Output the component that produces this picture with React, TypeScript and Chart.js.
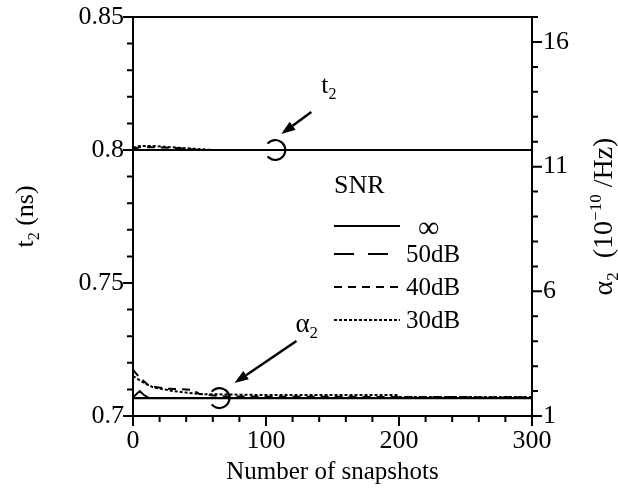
import { useEffect, useRef } from 'react';
import { Chart, registerables } from 'chart.js';

Chart.register(...registerables);

const FONT = '"Liberation Serif", "Times New Roman", serif';

// Fitted delay t2 (ns) against the number of snapshots, one pair per SNR
const t2InfX = [0, 300];
const t2InfY = [0.8, 0.8];
const t2Db50X = [0, 300];
const t2Db50Y = [0.8, 0.8];
const t2Db40X = [0, 5, 20, 40, 50, 300];
const t2Db40Y = [0.8005, 0.801, 0.801, 0.8005, 0.8, 0.8];
const t2Db30X = [0, 5, 15, 30, 45, 60, 300];
const t2Db30Y = [0.8008, 0.8015, 0.8015, 0.801, 0.8005, 0.8, 0.8];

// Fitted attenuation alpha2 (1e-10/Hz) against the number of snapshots
const a2InfX = [0, 300];
const a2InfY = [1.72, 1.72];
const a2Db50X = [0, 5, 8, 12, 300];
const a2Db50Y = [1.75, 2.0, 1.85, 1.72, 1.72];
const a2Db40X = [0, 4, 12, 25, 45, 50, 70, 300];
const a2Db40Y = [2.85, 2.6, 2.2, 2.1, 2.05, 1.88, 1.78, 1.75];
const a2Db30X = [0, 6, 15, 30, 50, 100, 198, 200, 300];
const a2Db30Y = [2.6, 2.4, 2.15, 2.0, 1.88, 1.84, 1.84, 1.76, 1.76];

// Axis ticks
const xTicks = [0, 100, 200, 300];
const t2Ticks = [0.7, 0.75, 0.8, 0.85];
const a2Ticks = [1, 6, 11, 16];

// Legend
const snrLabels = ['∞', '50dB', '40dB', '30dB'];
const snrDashes: number[][] = [[], [20, 14], [8, 6], [3, 2]];

// Annotation anchors in data units: [snapshots, value]
const t2Marker = [107, 0.8];
const a2Marker = [65, 1.72];

type Part = [string, 'n' | 'sub' | 'sup'];

const pts = (xs: number[], ys: number[]) => xs.map((x, i) => ({ x, y: ys[i] }));

function drawRich(ctx: CanvasRenderingContext2D, parts: Part[], x: number, y: number, size: number, center = false) {
  const small = Math.round(size * 0.62);
  const widths = parts.map(([t, k]) => {
    ctx.font = `${k === 'n' ? size : small}px ${FONT}`;
    return ctx.measureText(t).width;
  });
  const total = widths.reduce((a, b) => a + b, 0);
  let cx = center ? x - total / 2 : x;
  ctx.textBaseline = 'alphabetic';
  ctx.textAlign = 'left';
  parts.forEach(([t, k], i) => {
    ctx.font = `${k === 'n' ? size : small}px ${FONT}`;
    const dy = k === 'sub' ? size * 0.22 : k === 'sup' ? -size * 0.38 : 0;
    ctx.fillText(t, cx, y + dy);
    cx += widths[i];
  });
}

function arrow(ctx: CanvasRenderingContext2D, x0: number, y0: number, x1: number, y1: number) {
  const ang = Math.atan2(y1 - y0, x1 - x0);
  const head = 14;
  const hw = 5;
  const bx = x1 - head * Math.cos(ang);
  const by = y1 - head * Math.sin(ang);
  ctx.lineWidth = 2.5;
  ctx.beginPath();
  ctx.moveTo(x0, y0);
  ctx.lineTo(bx, by);
  ctx.stroke();
  ctx.beginPath();
  ctx.moveTo(x1, y1);
  ctx.lineTo(bx + hw * Math.sin(ang), by - hw * Math.cos(ang));
  ctx.lineTo(bx - hw * Math.sin(ang), by + hw * Math.cos(ang));
  ctx.closePath();
  ctx.fill();
}

function hook(ctx: CanvasRenderingContext2D, cx: number, cy: number) {
  ctx.lineWidth = 2.2;
  ctx.beginPath();
  ctx.arc(cx, cy, 10, -0.78 * Math.PI, 0.78 * Math.PI);
  ctx.stroke();
}

const framePlugin = {
  id: 'frameAndNotes',
  afterDraw(chart: any) {
    const { ctx, chartArea } = chart;
    const { left, top, right, bottom } = chartArea;
    const { x, y, y1 } = chart.scales;
    ctx.save();
    ctx.strokeStyle = '#000';
    ctx.fillStyle = '#000';
    ctx.lineWidth = 2;
    ctx.strokeRect(left, top, right - left, bottom - top);

    // tick marks, major and minor
    ctx.beginPath();
    for (let v = 0; v <= 300; v += 20) {
      const px = x.getPixelForValue(v);
      const len = v % 100 === 0 ? 10 : 6;
      ctx.moveTo(px, bottom);
      ctx.lineTo(px, bottom + len);
    }
    for (let i = 0; i <= 15; i++) {
      const py = y.getPixelForValue(0.7 + i * 0.01);
      const len = i % 5 === 0 ? 10 : 6;
      ctx.moveTo(left, py);
      ctx.lineTo(left - len, py);
    }
    for (let v = 1; v <= 17; v++) {
      const py = y1.getPixelForValue(v);
      const len = (v - 1) % 5 === 0 ? 10 : 6;
      ctx.moveTo(right, py);
      ctx.lineTo(right + len, py);
    }
    ctx.stroke();

    // axis titles
    ctx.save();
    ctx.translate(25, (top + bottom) / 2);
    ctx.rotate(-Math.PI / 2);
    drawRich(ctx, [['t', 'n'], ['2', 'sub'], [' (ns)', 'n']], 0, 8, 26, true);
    ctx.restore();

    ctx.save();
    ctx.translate(603, (top + bottom) / 2);
    ctx.rotate(-Math.PI / 2);
    drawRich(ctx, [['α', 'n'], ['2', 'sub'], ['  (10', 'n'], ['−10', 'sup'], [' /Hz)', 'n']], 0, 9, 28, true);
    ctx.restore();

    // t2 marker
    const tx = x.getPixelForValue(t2Marker[0]);
    const ty = y.getPixelForValue(t2Marker[1]);
    hook(ctx, tx, ty);
    arrow(ctx, tx + 36, ty - 38, tx + 6, ty - 16);
    drawRich(ctx, [['t', 'n'], ['2', 'sub']], tx + 46, ty - 57, 26);

    // alpha2 marker
    const ax = x.getPixelForValue(a2Marker[0]);
    const ay = y1.getPixelForValue(a2Marker[1]);
    hook(ctx, ax, ay);
    arrow(ctx, ax + 77, ay - 57, ax + 15, ay - 15);
    drawRich(ctx, [['α', 'n'], ['2', 'sub']], ax + 76, ay - 66, 27);

    // legend
    const lx = 334;
    ctx.font = `26px ${FONT}`;
    ctx.textBaseline = 'middle';
    ctx.textAlign = 'left';
    ctx.fillText('SNR', lx, 186);
    const rows = [226, 254, 287, 320];
    rows.forEach((ry, i) => {
      ctx.lineWidth = 2;
      ctx.setLineDash(snrDashes[i]);
      ctx.beginPath();
      ctx.moveTo(lx, ry);
      ctx.lineTo(lx + 66, ry);
      ctx.stroke();
      ctx.setLineDash([]);
      if (i === 0) {
        ctx.font = `30px ${FONT}`;
        ctx.fillText(snrLabels[i], lx + 84, ry + 3);
      } else {
        ctx.font = `25px ${FONT}`;
        ctx.fillText(snrLabels[i], lx + 72, ry + 1);
      }
    });
    ctx.restore();
  },
};

export default function App() {
  const ref = useRef<HTMLCanvasElement>(null);

  useEffect(() => {
    if (!ref.current) return;
    const line = (data: { x: number; y: number }[], dash: number[], axis: string, width = 2) => ({
      data,
      yAxisID: axis,
      borderColor: '#000',
      borderWidth: width,
      borderDash: dash,
      pointRadius: 0,
      tension: 0,
      fill: false,
    });
    const noPad = (s: any) => {
      s.paddingTop = 0;
      s.paddingBottom = 0;
      s.paddingLeft = 0;
      s.paddingRight = 0;
    };
    const chart = new Chart(ref.current, {
      type: 'line',
      data: {
        datasets: [
          { label: 't2 ∞', ...line(pts(t2InfX, t2InfY), snrDashes[0], 'y', 2.2) },
          { label: 't2 50dB', ...line(pts(t2Db50X, t2Db50Y), snrDashes[1], 'y') },
          { label: 't2 40dB', ...line(pts(t2Db40X, t2Db40Y), snrDashes[2], 'y') },
          { label: 't2 30dB', ...line(pts(t2Db30X, t2Db30Y), snrDashes[3], 'y') },
          { label: 'α2 ∞', ...line(pts(a2InfX, a2InfY), snrDashes[0], 'y1', 2.2) },
          { label: 'α2 50dB', ...line(pts(a2Db50X, a2Db50Y), snrDashes[1], 'y1') },
          { label: 'α2 40dB', ...line(pts(a2Db40X, a2Db40Y), snrDashes[2], 'y1') },
          { label: 'α2 30dB', ...line(pts(a2Db30X, a2Db30Y), snrDashes[3], 'y1') },
        ],
      },
      options: {
        animation: false,
        responsive: true,
        maintainAspectRatio: false,
        devicePixelRatio: 1,
        layout: { padding: { top: 17, left: 0, right: 0, bottom: 0 } },
        plugins: { legend: { display: false }, tooltip: { enabled: false } },
        scales: {
          x: {
            type: 'linear',
            min: 0,
            max: 300,
            afterBuildTicks: (s: any) => { s.ticks = xTicks.map((v) => ({ value: v })); },
            afterFit: (s: any) => { s.height = 76; noPad(s); },
            ticks: { color: '#000', font: { family: FONT, size: 26 }, padding: 10, maxRotation: 0 },
            grid: { display: false, drawTicks: false },
            border: { display: false },
            title: {
              display: true,
              text: 'Number of snapshots',
              color: '#000',
              font: { family: FONT, size: 25 },
              padding: { top: 0, bottom: 5 },
            },
          },
          y: {
            type: 'linear',
            position: 'left',
            min: 0.7,
            max: 0.85,
            afterBuildTicks: (s: any) => { s.ticks = t2Ticks.map((v) => ({ value: v })); },
            afterFit: (s: any) => { s.width = 133; noPad(s); },
            ticks: {
              color: '#000',
              font: { family: FONT, size: 26 },
              padding: 9,
              callback: (v: any) => String(Number(Number(v).toFixed(2))),
            },
            grid: { display: false, drawTicks: false },
            border: { display: false },
          },
          y1: {
            type: 'linear',
            position: 'right',
            min: 1,
            max: 17,
            afterBuildTicks: (s: any) => { s.ticks = a2Ticks.map((v) => ({ value: v })); },
            afterFit: (s: any) => { s.width = 86; noPad(s); },
            ticks: { color: '#000', font: { family: FONT, size: 26 }, padding: 11 },
            grid: { display: false, drawTicks: false },
            border: { display: false },
          },
        },
      },
      plugins: [framePlugin],
    } as any);
    return () => chart.destroy();
  }, []);

  return (
    <div style={{ position: 'absolute', left: 0, top: 0, width: 618, height: 492, background: '#fff' }}>
      <canvas ref={ref} />
    </div>
  );
}
